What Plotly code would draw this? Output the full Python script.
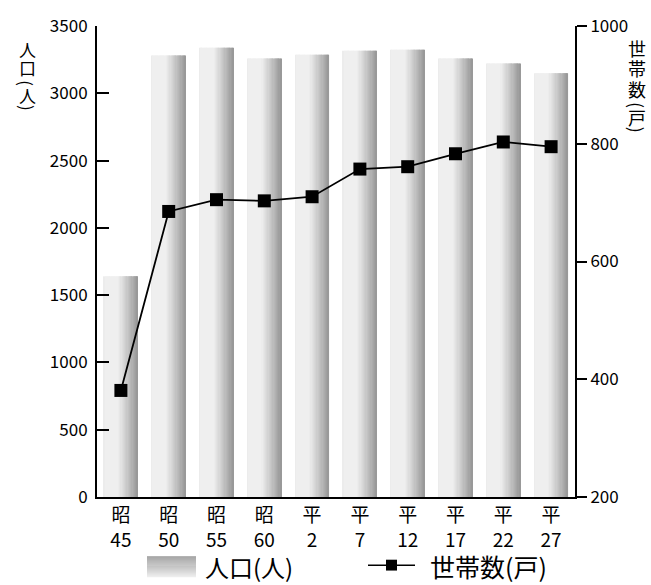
import plotly.graph_objects as go

# ---- data ----
eras = ["昭", "昭", "昭", "昭", "平", "平", "平", "平", "平", "平"]
years = ["45", "50", "55", "60", "2", "7", "12", "17", "22", "27"]
population = [1640, 3280, 3338, 3258, 3287, 3316, 3324, 3258, 3221, 3148]
households = [381, 685, 705, 703, 710, 757, 761, 783, 803, 795]

categories = [f"{e}<br>{y}" for e, y in zip(eras, years)]

FONT = "Noto Sans CJK JP"
W, H = 651, 585
ML, MR, MT, MB = 97, 76, 20, 88
PW, PH = W - ML - MR, H - MT - MB


def px(xp):
    return (xp - ML) / PW


def py(yp):
    return (H - MB - yp) / PH


def grey(v):
    v = int(round(v))
    return f"rgb({v},{v},{v})"


fig = go.Figure()

# cylinder-like shading: each bar is built from thin vertical strips
half = 0.355
n_strips = 28
sw = 2 * half / n_strips
for i in range(n_strips):
    t = (i + 0.5) / n_strips
    if t < 0.42:
        c = 239 - 4 * max(0.0, 0.06 - t) / 0.06
    else:
        c = 239 - (239 - 150) * ((t - 0.42) / 0.58) ** 1.1
    w = sw * (1.6 if i < n_strips - 1 else 1.0)
    fig.add_trace(go.Bar(
        x=categories, y=population,
        width=[w] * len(categories),
        offset=-half + i * sw,
        marker=dict(color=grey(c), line=dict(width=0)),
        showlegend=False, hoverinfo="skip", yaxis="y",
    ))

fig.add_trace(go.Scatter(
    x=categories, y=households, yaxis="y2",
    mode="lines+markers",
    line=dict(color="black", width=1.8),
    marker=dict(symbol="square", size=13, color="black"),
    showlegend=False,
))

shapes = []
annotations = []

# legend: gradient swatch for population
x0, x1, y0, y1 = 147, 196, 557, 578
rows = 21
for r in range(rows):
    t = r / (rows - 1)
    c = 154 + (237 - 154) * t
    shapes.append(dict(type="rect", xref="paper", yref="paper",
                       x0=px(x0), x1=px(x1),
                       y0=py(y0 + r), y1=py(y0 + r + 1.3),
                       line=dict(width=0), fillcolor=grey(c), layer="above"))
annotations.append(dict(text="人口(人)", x=px(203), y=py(567), xref="paper", yref="paper",
                        xanchor="left", yanchor="middle", showarrow=False,
                        font=dict(family=FONT, size=24, color="black")))

# legend: line with square marker for households
shapes.append(dict(type="line", xref="paper", yref="paper",
                   x0=px(368), x1=px(415), y0=py(566), y1=py(566),
                   line=dict(color="black", width=1.5)))
shapes.append(dict(type="rect", xref="paper", yref="paper",
                   x0=px(386), x1=px(397), y0=py(560.5), y1=py(571.5),
                   line=dict(width=0), fillcolor="black"))
annotations.append(dict(text="世帯数(戸)", x=px(428), y=py(567), xref="paper", yref="paper",
                        xanchor="left", yanchor="middle", showarrow=False,
                        font=dict(family=FONT, size=25, color="black")))

# vertical axis titles: one glyph per line, brackets turned sideways
def stack(glyphs, xc, size):
    for ch, yc in glyphs:
        rot = 90 if ch in "()" else 0
        annotations.append(dict(text=ch, x=px(xc), y=py(yc), xref="paper", yref="paper",
                                xanchor="center", yanchor="middle", showarrow=False,
                                textangle=rot,
                                font=dict(family=FONT, size=size, color="black")))


stack([("人", 43.5), ("口", 62.5), ("(", 78), ("人", 90.5), (")", 103)], 27, 17)
stack([("世", 42.5), ("帯", 62.5), ("数", 83.5), ("(", 100), ("戸", 112.5), (")", 125)], 637, 18)

fig.update_layout(
    width=W, height=H,
    margin=dict(l=ML, r=MR, t=MT, b=MB),
    paper_bgcolor="white", plot_bgcolor="white",
    barmode="overlay",
    font=dict(family=FONT, color="black"),
    xaxis=dict(type="category", range=[-0.5, len(categories) - 0.5],
               showline=True, linecolor="black", linewidth=2,
               ticks="", showgrid=False, zeroline=False,
               tickfont=dict(family=FONT, size=19, color="black")),
    yaxis=dict(range=[0, 3500], dtick=500, tick0=0,
               showline=True, linecolor="black", linewidth=2,
               ticks="inside", ticklen=12, tickwidth=2, tickcolor="black",
               ticklabelstandoff=4,
               showgrid=False, zeroline=False,
               tickfont=dict(family=FONT, size=17, color="black")),
    yaxis2=dict(range=[200, 1000], dtick=200, tick0=200,
                overlaying="y", side="right",
                showline=True, linecolor="black", linewidth=2,
                ticks="outside", ticklen=10, tickwidth=2, tickcolor="black",
                showgrid=False, zeroline=False,
                tickfont=dict(family=FONT, size=17, color="black")),
    shapes=shapes,
    annotations=annotations,
)

fig.write_html("out.html")
